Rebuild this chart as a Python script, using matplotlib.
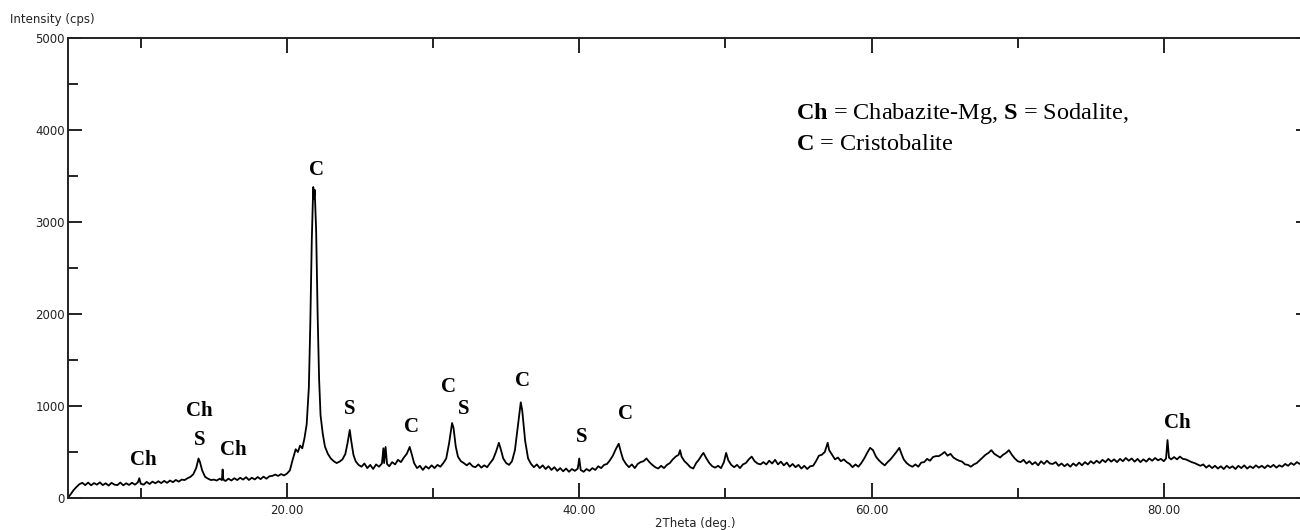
import matplotlib
matplotlib.use("Agg")
import matplotlib.pyplot as plt
from matplotlib.ticker import MultipleLocator, FormatStrFormatter

# ---------------- data ----------------
two_theta = [
    5.0, 5.2, 5.4, 5.6, 5.8, 6.0, 6.2, 6.4, 6.6, 6.8,
    7.0, 7.2, 7.4, 7.6, 7.8, 8.0, 8.2, 8.4, 8.6, 8.8,
    9.0, 9.2, 9.4, 9.6, 9.8, 9.9, 10.0, 10.2, 10.4, 10.6,
    10.8, 11.0, 11.2, 11.4, 11.6, 11.8, 12.0, 12.2, 12.4, 12.6,
    12.8, 13.0, 13.2, 13.4, 13.6, 13.8, 13.95, 14.05, 14.2, 14.4,
    14.6, 14.8, 15.0, 15.2, 15.4, 15.55, 15.6, 15.65, 15.8, 16.0,
    16.2, 16.4, 16.6, 16.8, 17.0, 17.2, 17.4, 17.6, 17.8, 18.0,
    18.2, 18.4, 18.6, 18.8, 19.0, 19.2, 19.4, 19.6, 19.8, 20.0,
    20.2, 20.4, 20.6, 20.75, 20.9, 21.05, 21.2, 21.35, 21.5, 21.6,
    21.7, 21.8, 21.85, 21.9, 22.0, 22.1, 22.2, 22.3, 22.45, 22.6,
    22.8, 23.0, 23.2, 23.4, 23.6, 23.8, 24.0, 24.15, 24.3, 24.4,
    24.55, 24.7, 24.9, 25.1, 25.3, 25.5, 25.7, 25.9, 26.1, 26.3,
    26.5, 26.6, 26.65, 26.75, 26.85, 27.0, 27.2, 27.4, 27.6, 27.8,
    28.0, 28.2, 28.4, 28.55, 28.7, 28.9, 29.1, 29.3, 29.5, 29.7,
    29.9, 30.1, 30.3, 30.5, 30.7, 30.9, 31.1, 31.3, 31.4, 31.55,
    31.7, 31.9, 32.1, 32.3, 32.5, 32.7, 32.9, 33.1, 33.3, 33.5,
    33.7, 33.9, 34.1, 34.3, 34.5, 34.65, 34.8, 35.0, 35.2, 35.4,
    35.6, 35.8, 36.0, 36.1, 36.3, 36.5, 36.7, 36.9, 37.1, 37.3,
    37.5, 37.7, 37.9, 38.1, 38.3, 38.5, 38.7, 38.9, 39.1, 39.3,
    39.5, 39.7, 39.9, 40.0, 40.1, 40.3, 40.5, 40.7, 40.9, 41.1,
    41.3, 41.5, 41.7, 41.9, 42.1, 42.3, 42.5, 42.7, 42.85, 43.0,
    43.2, 43.4, 43.6, 43.8, 44.0, 44.2, 44.4, 44.6, 44.8, 45.0,
    45.2, 45.4, 45.6, 45.8, 46.0, 46.2, 46.4, 46.6, 46.8, 46.9,
    47.0, 47.2, 47.4, 47.6, 47.8, 48.0, 48.2, 48.4, 48.5, 48.7,
    48.9, 49.1, 49.3, 49.5, 49.7, 49.9, 50.05, 50.2, 50.4, 50.6,
    50.8, 51.0, 51.2, 51.4, 51.6, 51.8, 52.0, 52.2, 52.4, 52.6,
    52.8, 53.0, 53.2, 53.4, 53.6, 53.8, 54.0, 54.2, 54.4, 54.6,
    54.8, 55.0, 55.2, 55.4, 55.6, 55.8, 56.0, 56.2, 56.4, 56.6,
    56.8, 57.0, 57.1, 57.3, 57.5, 57.7, 57.9, 58.1, 58.3, 58.5,
    58.7, 58.9, 59.1, 59.3, 59.5, 59.7, 59.9, 60.1, 60.3, 60.5,
    60.7, 60.9, 61.1, 61.3, 61.5, 61.7, 61.9, 62.05, 62.2, 62.4,
    62.6, 62.8, 63.0, 63.2, 63.4, 63.6, 63.8, 64.0, 64.2, 64.4,
    64.6, 64.8, 65.0, 65.2, 65.4, 65.6, 65.8, 66.0, 66.2, 66.4,
    66.6, 66.8, 67.0, 67.2, 67.4, 67.6, 67.8, 68.0, 68.2, 68.4,
    68.6, 68.8, 69.0, 69.2, 69.4, 69.6, 69.8, 70.0, 70.2, 70.4,
    70.6, 70.8, 71.0, 71.2, 71.4, 71.6, 71.8, 72.0, 72.2, 72.4,
    72.6, 72.8, 73.0, 73.2, 73.4, 73.6, 73.8, 74.0, 74.2, 74.4,
    74.6, 74.8, 75.0, 75.2, 75.4, 75.6, 75.8, 76.0, 76.2, 76.4,
    76.6, 76.8, 77.0, 77.2, 77.4, 77.6, 77.8, 78.0, 78.2, 78.4,
    78.6, 78.8, 79.0, 79.2, 79.4, 79.6, 79.8, 80.0, 80.15, 80.25,
    80.35, 80.5, 80.7, 80.9, 81.1, 81.3, 81.5, 81.7, 81.9, 82.1,
    82.3, 82.5, 82.7, 82.9, 83.1, 83.3, 83.5, 83.7, 83.9, 84.1,
    84.3, 84.5, 84.7, 84.9, 85.1, 85.3, 85.5, 85.7, 85.9, 86.1,
    86.3, 86.5, 86.7, 86.9, 87.1, 87.3, 87.5, 87.7, 87.9, 88.1,
    88.3, 88.5, 88.7, 88.9, 89.1, 89.3, 89.5, 89.7, 89.9, 90.0,
]
intensity = [
    0, 40, 85, 120, 150, 165, 140, 168, 138, 162,
    145, 170, 140, 160, 135, 165, 145, 140, 168, 138,
    160, 142, 166, 145, 170, 215, 155, 145, 175, 152,
    178, 160, 182, 162, 186, 165, 190, 172, 196, 178,
    200, 195, 215, 230, 260, 330, 430, 390, 300, 230,
    210, 195, 200, 190, 210, 195, 310, 200, 185, 210,
    190, 215, 195, 220, 200, 226, 196, 220, 202, 228,
    205, 232, 210, 236, 240, 255, 240, 260, 245, 265,
    300, 420, 530, 500, 570, 540, 650, 800, 1200, 1900,
    2800, 3380, 3250, 3350, 2900, 2000, 1300, 900, 700, 560,
    480, 430, 400, 380, 395, 420, 480, 600, 740, 620,
    470, 400, 360, 340, 375, 325, 360, 315, 365, 340,
    375, 540, 380, 555, 370, 345, 390, 365, 415, 390,
    440, 480, 555, 470, 380, 325, 350, 305, 345, 320,
    355, 325, 360, 340, 380, 430, 600, 815, 760, 560,
    450, 400, 380, 355, 380, 345, 335, 365, 330, 355,
    335, 380, 420, 500, 600, 520, 430, 380, 360, 400,
    520, 780, 1040, 950, 620, 430, 370, 335, 365, 325,
    355, 315, 345, 305, 335, 295, 325, 290, 320, 285,
    315, 295, 320, 430, 305, 285, 315, 295, 325, 305,
    345, 325, 360, 370, 410, 460, 530, 590, 500, 420,
    370, 335, 365, 325, 370, 390, 400, 430, 390, 360,
    335, 320, 350, 325, 360, 380, 420, 450, 470, 520,
    450, 400, 370, 335, 320, 380, 420, 470, 490, 430,
    380, 345, 330, 350, 325, 390, 490, 410, 360, 335,
    360, 325, 365, 380, 420, 450, 400, 375, 365, 390,
    365, 405, 375, 415, 365, 395, 355, 385, 340, 370,
    335, 360, 320, 350, 315, 345, 350, 400, 460, 470,
    500, 600, 520, 470, 420, 440, 400, 420, 390, 370,
    335, 365, 340, 380, 430, 490, 545, 520, 450, 410,
    380, 355, 390, 420, 460, 500, 545, 480, 420, 380,
    355, 340, 365, 340, 385, 390, 425, 405, 445, 455,
    455, 475, 500, 460, 480, 440, 420, 405, 395, 365,
    360, 340, 365, 380, 410, 440, 470, 490, 520, 480,
    460, 440, 470, 490, 520, 470, 430, 400, 390, 415,
    375, 400, 365, 390, 355, 400, 370, 405, 375, 370,
    390, 350, 375, 345, 370, 340, 375, 350, 385, 355,
    390, 365, 400, 375, 405, 380, 415, 390, 425, 395,
    420, 390, 425, 400, 435, 405, 430, 395, 425, 390,
    420, 395, 430, 405, 435, 410, 425, 400, 430, 630,
    440, 420, 445, 420, 450, 425, 420, 405, 390, 380,
    365, 350, 365, 330, 355, 325, 350, 320, 345, 315,
    350, 325, 345, 315, 350, 325, 355, 320, 345, 325,
    355, 330, 350, 325, 355, 335, 360, 330, 355, 340,
    370, 350, 380, 360, 390, 370, 385, 375, 380, 385,
]

peak_labels = ["Ch", "Ch", "S", "Ch", "C", "S", "C", "C", "S", "C", "S", "C", "Ch"]
label_x = [10.15, 14.0, 14.0, 16.3, 22.0, 24.3, 28.55, 31.07, 32.1, 36.1, 40.2, 43.15, 80.9]
label_y = [413, 946, 630, 520, 3565, 967, 772, 1207, 967, 1272, 663, 913, 815]

x_major = [20, 40, 60, 80]
y_major = [0, 1000, 2000, 3000, 4000, 5000]

# ---------------- figure ----------------
plt.rcParams['mathtext.fontset'] = 'custom'
plt.rcParams['mathtext.rm'] = 'Liberation Serif'
plt.rcParams['mathtext.bf'] = 'Liberation Serif:bold'

W, H = 1300, 530
fig = plt.figure(figsize=(W / 100, H / 100), dpi=100)
left_px, right_px, top_px, bot_px = 67.7, 1310, 38, 498
ax = fig.add_axes([left_px / W, (H - bot_px) / H,
                   (right_px - left_px) / W, (bot_px - top_px) / H])

ax.plot(two_theta, intensity, color='black', lw=1.3)

ax.set_xlim(5, 90)
ax.set_ylim(0, 5000)
ax.set_xticks(x_major)
ax.xaxis.set_minor_locator(MultipleLocator(10))
ax.xaxis.set_major_formatter(FormatStrFormatter('%.2f'))
ax.set_yticks(y_major)
ax.yaxis.set_minor_locator(MultipleLocator(500))

for sp in ax.spines.values():
    sp.set_linewidth(1.4)
    sp.set_color('#222222')

ax.tick_params(axis='both', which='both', direction='in', top=True, right=True,
               width=1.4, color='#222222', labelsize=8.5, labelcolor='#222222')
ax.tick_params(axis='x', which='major', length=11, pad=4)
ax.tick_params(axis='x', which='minor', length=7.5)
ax.tick_params(axis='y', which='major', length=10, pad=2)
ax.tick_params(axis='y', which='minor', length=7)

for t in ax.get_xticklabels() + ax.get_yticklabels():
    t.set_fontfamily('DejaVu Sans')

fig.text(10 / W, 1 - 20 / H, "Intensity (cps)", ha='left', va='center',
         fontsize=8.5, color='#222222', family='DejaVu Sans')
fig.text(695 / W, 1 - 523 / H, "2Theta (deg.)", ha='center', va='center',
         fontsize=8.5, color='#222222', family='DejaVu Sans')

for s, x, y in zip(peak_labels, label_x, label_y):
    ax.text(x, y, s, ha='center', va='center', family='Liberation Serif',
            fontweight='bold', fontsize=15, color='black')

fig.text(796 / W, 1 - 113 / H,
         r"$\mathbf{Ch}$ = Chabazite-Mg, $\mathbf{S}$ = Sodalite,",
         ha='left', va='center', family='Liberation Serif', fontsize=17.5)
fig.text(796 / W, 1 - 145 / H,
         r"$\mathbf{C}$ = Cristobalite",
         ha='left', va='center', family='Liberation Serif', fontsize=17.5)

fig.savefig("out.png", dpi=100)
